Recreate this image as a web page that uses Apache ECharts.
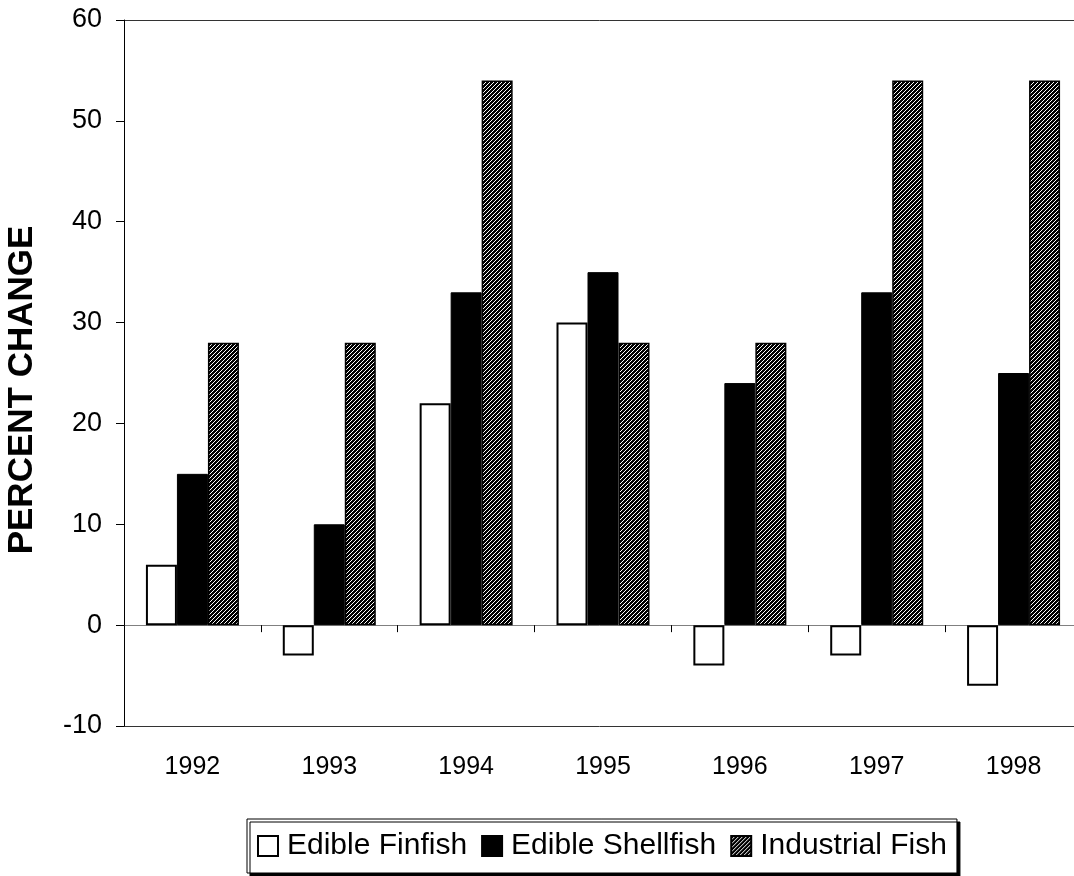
<!DOCTYPE html>
<html>
<head>
<meta charset="utf-8">
<script src="https://cdn.jsdelivr.net/npm/echarts@6/dist/echarts.min.js"></script>
<style>
html,body{margin:0;padding:0;background:#fff;}
#chart{width:1074px;height:876px;}
</style>
</head>
<body>
<div id="chart"></div>
<script>
var categories = ['1992','1993','1994','1995','1996','1997','1998'];
var edibleFinfish = [6, -3, 22, 30, -4, -3, -6];
var edibleShellfish = [15, 10, 33, 35, 24, 33, 25];
var industrialFish = [28, 28, 54, 28, 28, 54, 54];
var seriesNames = ['Edible Finfish', 'Edible Shellfish', 'Industrial Fish'];
var yTicks = {min: -10, max: 60, interval: 10};

var pc = document.createElement('canvas');
pc.width = 4; pc.height = 4;
var pctx = pc.getContext('2d');
pctx.fillStyle = '#000';
pctx.fillRect(0,0,4,4);
pctx.fillStyle = '#fff';
for (var i = 0; i < 4; i++) { pctx.fillRect(i, 3 - i, 1, 1); }

var FONT = '"Liberation Sans", Arial, sans-serif';
var chart = echarts.init(document.getElementById('chart'), null, {renderer: 'canvas'});
var option = {
  animation: false,
  backgroundColor: '#fff',
  grid: {left: 124, top: 20, bottom: 150, width: 958, containLabel: false, outerBoundsMode: 'none'},
  legend: {
    left: 247, top: 819,
    data: seriesNames,
    icon: 'rect',
    itemWidth: 20, itemHeight: 20, itemGap: 14,
    padding: [12, 10, 12, 10],
    backgroundColor: '#fff',
    borderColor: '#000', borderWidth: 1,
    shadowColor: '#000', shadowOffsetX: 3, shadowOffsetY: 3, shadowBlur: 0,
    textStyle: {fontFamily: FONT, fontSize: 30, color: '#000', padding: [0,0,0,4]}
  },
  xAxis: {
    type: 'category',
    data: categories,
    axisLine: {onZero: true, lineStyle: {color: '#808080', width: 1}},
    axisTick: {show: true, length: 7, lineStyle: {color: '#000'}},
    axisLabel: {fontFamily: FONT, fontSize: 25, color: '#000', margin: 29}
  },
  yAxis: {
    type: 'value',
    min: yTicks.min, max: yTicks.max, interval: yTicks.interval,
    name: 'PERCENT CHANGE',
    nameLocation: 'middle',
    nameGap: 84,
    nameRotate: 90,
    nameTextStyle: {fontFamily: FONT, fontSize: 35, fontWeight: 'bold', color: '#000', padding: [0, 34, 0, 0]},
    axisLine: {show: true, lineStyle: {color: '#000', width: 1}},
    axisTick: {show: true, length: 8, lineStyle: {color: '#000'}},
    axisLabel: {fontFamily: FONT, fontSize: 27, color: '#000', margin: 22},
    splitLine: {show: true, lineStyle: {color: ['#333','rgba(0,0,0,0)','rgba(0,0,0,0)','rgba(0,0,0,0)','rgba(0,0,0,0)','rgba(0,0,0,0)','rgba(0,0,0,0)','#333'], width: 1}}
  },
  series: [
    {name: seriesNames[0], type: 'bar', data: edibleFinfish, barWidth: 31, barGap: '0%',
     itemStyle: {color: '#fff', borderColor: '#000', borderWidth: 2}},
    {name: seriesNames[1], type: 'bar', data: edibleShellfish, barWidth: 31, barGap: '0%',
     itemStyle: {color: '#000', borderColor: '#000', borderWidth: 1}},
    {name: seriesNames[2], type: 'bar', data: industrialFish, barWidth: 31, barGap: '0%',
     itemStyle: {color: {image: pc, repeat: 'repeat'}, borderColor: '#000', borderWidth: 1.5}}
  ]
};
chart.setOption(option);
</script>
</body>
</html>
